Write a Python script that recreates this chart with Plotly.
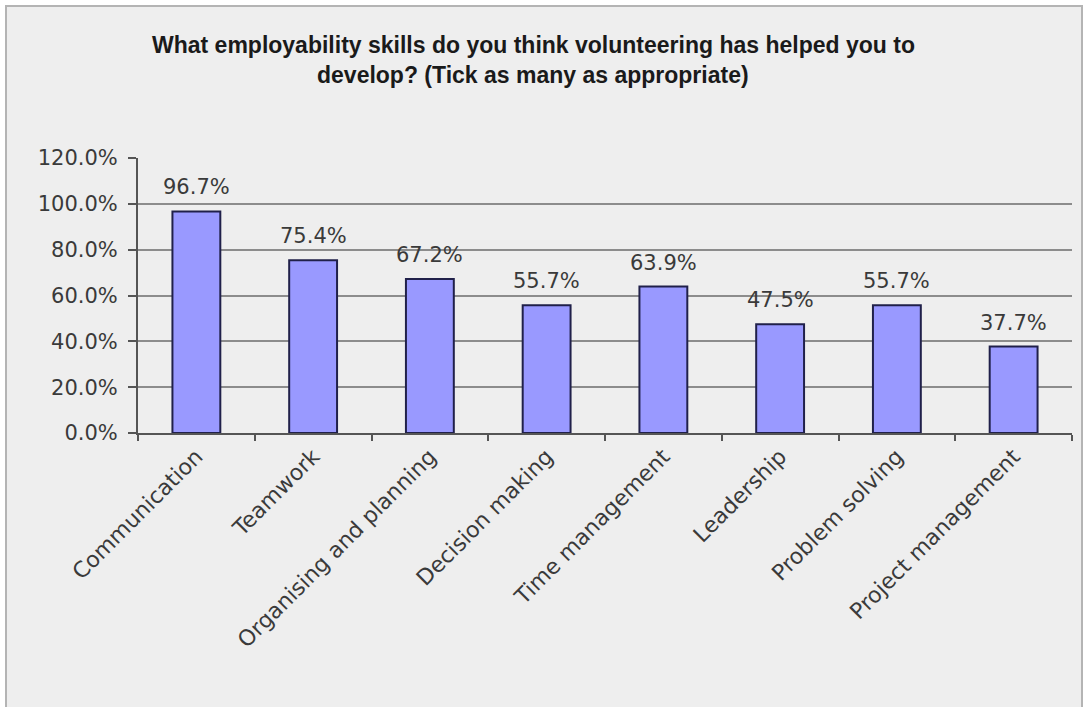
import plotly.graph_objects as go

categories = ["Communication", "Teamwork", "Organising and planning", "Decision making",
              "Time management", "Leadership", "Problem solving", "Project management"]
values = [0.967, 0.754, 0.672, 0.557, 0.639, 0.475, 0.557, 0.377]
labels = ["96.7%", "75.4%", "67.2%", "55.7%", "63.9%", "47.5%", "55.7%", "37.7%"]
title_lines = ["What employability skills do you think volunteering has helped you to",
               "develop? (Tick as many as appropriate)"]

W, H = 1087, 707
L, R, T, B = 138, 1072, 158, 433
pw, ph = R - L, B - T

def px(x):
    return (x - L) / pw

def py(y):
    return (B - y) / ph

TXT = "#3a3a3a"
FONT = "DejaVu Sans, Verdana, sans-serif"

fig = go.Figure()
fig.add_trace(go.Bar(
    x=categories, y=values,
    marker=dict(color="#9999ff", line=dict(color="#20204a", width=2)),
    width=0.41,
    hoverinfo="skip",
))

annotations = []
for c, v, t in zip(categories, values, labels):
    annotations.append(dict(x=c, y=v, xref="x", yref="y", text=t, showarrow=False,
                            yanchor="middle", yshift=24,
                            font=dict(family=FONT, size=21, color=TXT)))
for i, line in enumerate(title_lines):
    annotations.append(dict(x=px(533), y=py(45 + 30 * i), xref="paper", yref="paper",
                            text="<b>" + line + "</b>", showarrow=False,
                            xanchor="center", yanchor="middle",
                            font=dict(family="Arial, Liberation Sans", size=23, color="#1a1a1a")))

fig.update_layout(
    width=W, height=H,
    margin=dict(l=L, r=W - R, t=T, b=H - B, pad=0),
    paper_bgcolor="#ffffff",
    plot_bgcolor="rgba(0,0,0,0)",
    showlegend=False,
    annotations=annotations,
    shapes=[dict(type="rect", xref="paper", yref="paper", layer="below",
                 x0=px(6), x1=px(1082), y0=py(712), y1=py(6),
                 fillcolor="#eeeeee", line=dict(color="#b4b4b4", width=2))],
    xaxis=dict(
        type="category",
        range=[-0.5, len(categories) - 0.5],
        tickangle=-45,
        tickson="boundaries",
        ticks="outside", ticklen=6, tickwidth=2, tickcolor="#555555",
        showline=True, linecolor="#555555", linewidth=2,
        showgrid=False,
        tickfont=dict(family=FONT, size=22, color=TXT),
        fixedrange=True,
    ),
    yaxis=dict(
        range=[0, 1.2],
        tickmode="linear", tick0=0, dtick=0.2,
        tickformat=".1%",
        ticks="outside", ticklen=8, tickwidth=2, tickcolor="#555555",
        showline=True, linecolor="#555555", linewidth=2,
        showgrid=True, gridcolor="#8c8c8c", gridwidth=2,
        zeroline=False,
        tickfont=dict(family=FONT, size=21, color=TXT),
        ticklabelstandoff=6,
        fixedrange=True,
    ),
)

fig.write_html("out.html", config={"displayModeBar": False})
